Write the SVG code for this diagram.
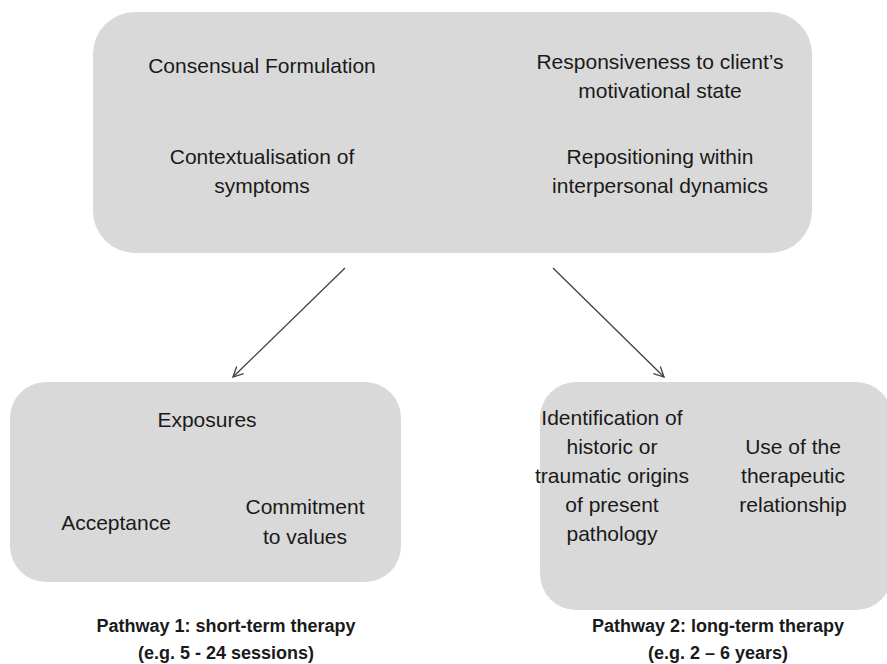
<svg xmlns="http://www.w3.org/2000/svg" width="887" height="664" viewBox="0 0 887 664">
<defs>
<style>
.box{fill:#d9d9d9;}
.t{font-family:"Liberation Sans",Arial,sans-serif;font-size:21px;fill:#1a1a1a;text-anchor:middle;}
.b{font-family:"Liberation Sans",Arial,sans-serif;font-size:18px;font-weight:bold;fill:#1a1a1a;text-anchor:middle;}
.c{stroke:#404040;stroke-width:1.3;fill:none;}
</style>
<marker id="arr" viewBox="0 0 12 12" refX="11" refY="6" markerWidth="12" markerHeight="12" markerUnits="userSpaceOnUse" orient="auto">
<path d="M1,1 L11,6 L1,11" fill="none" stroke="#404040" stroke-width="1.3"/>
</marker>
</defs>
<rect width="887" height="664" fill="#ffffff"/>
<g id="top">
<rect class="box" x="93" y="12" width="719" height="241" rx="42" ry="42"/>
<text class="t" x="262" y="73">Consensual Formulation</text>
<text class="t" x="660" y="69">Responsiveness to client’s</text>
<text class="t" x="660" y="98">motivational state</text>
<text class="t" x="262" y="164">Contextualisation of</text>
<text class="t" x="262" y="193">symptoms</text>
<text class="t" x="660" y="164">Repositioning within</text>
<text class="t" x="660" y="193">interpersonal dynamics</text>
</g>
<g id="connectors">
<line class="c" x1="345" y1="268" x2="233" y2="377" marker-end="url(#arr)"/>
<line class="c" x1="553" y1="268" x2="664" y2="377" marker-end="url(#arr)"/>
</g>
<g id="pathway1">
<rect class="box" x="10" y="382" width="391" height="200" rx="36" ry="36"/>
<text class="t" x="207" y="427">Exposures</text>
<text class="t" x="116" y="530">Acceptance</text>
<text class="t" x="305" y="514">Commitment</text>
<text class="t" x="305" y="544">to values</text>
</g>
<g id="pathway2">
<rect class="box" x="540" y="382" width="352" height="228" rx="36" ry="36"/>
<text class="t" x="612" y="425">Identification of</text>
<text class="t" x="612" y="454">historic or</text>
<text class="t" x="612" y="483">traumatic origins</text>
<text class="t" x="612" y="512">of present</text>
<text class="t" x="612" y="541">pathology</text>
<text class="t" x="793" y="454">Use of the</text>
<text class="t" x="793" y="483">therapeutic</text>
<text class="t" x="793" y="512">relationship</text>
</g>
<g id="label1">
<text class="b" x="226" y="632">Pathway 1: short-term therapy</text>
<text class="b" x="226" y="659">(e.g. 5 - 24 sessions)</text>
</g>
<g id="label2">
<text class="b" x="718" y="632">Pathway 2: long-term therapy</text>
<text class="b" x="718" y="659">(e.g. 2 – 6 years)</text>
</g>
</svg>
